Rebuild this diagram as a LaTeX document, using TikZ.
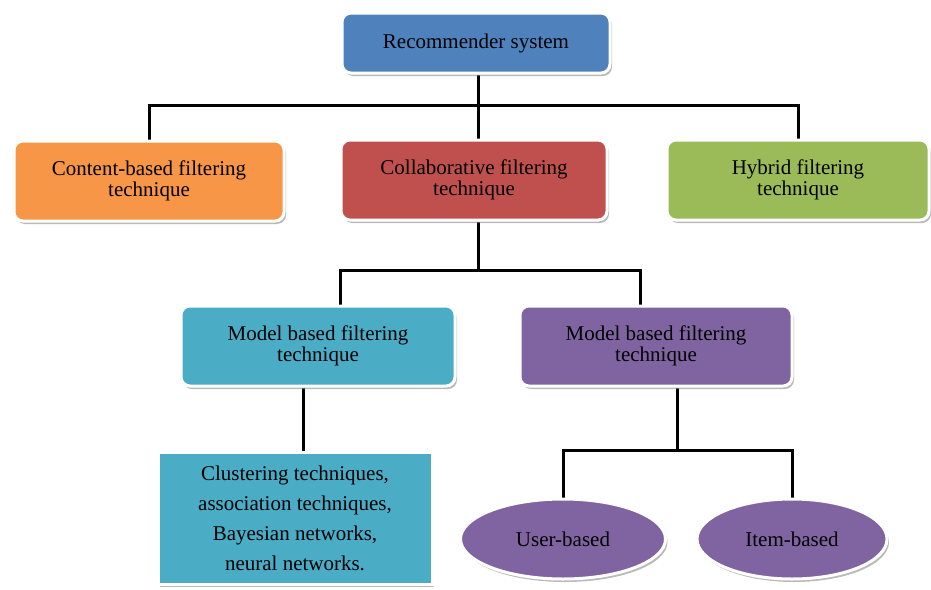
\documentclass[tikz,border=0pt]{standalone}
\usepackage{fontspec}
\setmainfont{Liberation Serif}
\usetikzlibrary{shapes.geometric,shadows,backgrounds}
\definecolor{cblue}{HTML}{4F81BD}
\definecolor{corange}{HTML}{F79646}
\definecolor{cred}{HTML}{C0504D}
\definecolor{cgreen}{HTML}{9BBB59}
\definecolor{cteal}{HTML}{4BACC6}
\definecolor{cpurple}{HTML}{8064A2}
\tikzset{
  base/.style={draw=white, line width=3pt, text=black, align=center,
    font=\fontsize{21}{21.5}\selectfont, inner sep=0pt,
    drop shadow={shadow xshift=2pt, shadow yshift=-3pt, fill=black!45, opacity=0.6}},
  rbox/.style={base, rectangle, rounded corners=9pt},
  sbox/.style={base, rectangle, font=\fontsize{21}{30}\selectfont},
  ebox/.style={base, ellipse},
  conn/.style={line width=3pt, black},
}
\begin{document}
\begin{tikzpicture}[x=1pt,y=-1pt]
\useasboundingbox (0,0) rectangle (931,589);
\node[rbox, fill=cblue, minimum width=268pt, minimum height=60pt] (rec) at (476,43) {Recommender system};
\node[rbox, fill=corange, minimum width=270pt, minimum height=80pt] (cb) at (149,181) {Content-based filtering\\technique};
\node[rbox, fill=cred, minimum width=266pt, minimum height=80pt] (cf) at (474,180) {Collaborative filtering\\technique};
\node[rbox, fill=cgreen, minimum width=262pt, minimum height=80pt] (hy) at (798,180) {Hybrid filtering\\technique};
\node[rbox, fill=cteal, minimum width=274pt, minimum height=80pt] (mt) at (318,346) {Model based filtering\\technique};
\node[rbox, fill=cpurple, minimum width=272pt, minimum height=80pt] (mp) at (656,346) {Model based filtering\\technique};
\node[sbox, fill=cteal, minimum width=274pt, minimum height=132pt] (cl) at (295,518) {Clustering techniques,\\association techniques,\\Bayesian networks,\\neural networks.};
\node[ebox, fill=cpurple, minimum width=205pt, minimum height=80pt] (ub) at (563,539) {User-based};
\node[ebox, fill=cpurple, minimum width=190pt, minimum height=80pt] (ib) at (792,539) {Item-based};
\coordinate (j1) at (478,105);
\coordinate (j2) at (478,270);
\coordinate (j3) at (677,450);
\begin{scope}[on background layer]
\draw[conn] (rec.south -| j1) -- (j1);
\draw[conn] (cb.north) |- (j1) -| (hy.north);
\draw[conn] (j1) -- (cf.north -| j1);
\draw[conn] (cf.south -| j2) -- (j2);
\draw[conn] ([xshift=22pt]mt.north) |- (j2) -| ([xshift=-16pt]mp.north);
\draw[conn] ([xshift=-15pt]mt.south) -- (cl.north -| {303,0});
\draw[conn] ([xshift=21pt]mp.south) -- (j3);
\draw[conn] (ub.north) |- (j3) -| (ib.north);
\end{scope}
\end{tikzpicture}
\end{document}
